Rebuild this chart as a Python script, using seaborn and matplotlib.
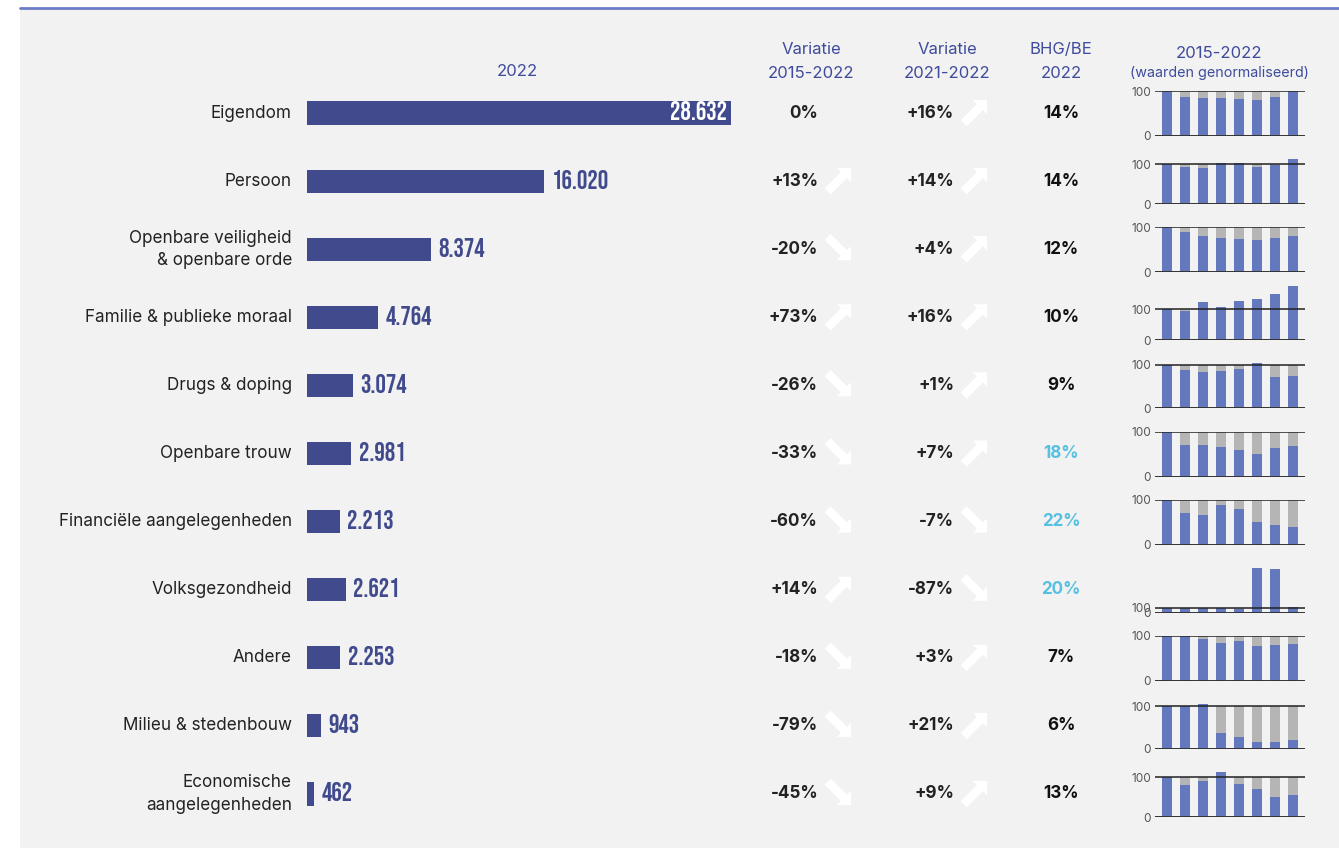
import matplotlib
matplotlib.use("Agg")
import matplotlib.pyplot as plt
import matplotlib.transforms as mtransforms
from matplotlib.patches import Rectangle, Polygon
from matplotlib.lines import Line2D
import numpy as np
import pandas as pd
import seaborn as sns

categories = ["Eigendom", "Persoon", "Openbare veiligheid\n& openbare orde",
              "Familie & publieke moraal", "Drugs & doping", "Openbare trouw",
              "Financiële aangelegenheden", "Volksgezondheid", "Andere",
              "Milieu & stedenbouw", "Economische\naangelegenheden"]
values_2022 = [28632, 16020, 8374, 4764, 3074, 2981, 2213, 2621, 2253, 943, 462]
var_2015_2022 = [0, 13, -20, 73, -26, -33, -60, 14, -18, -79, -45]
var_2021_2022 = [16, 14, 4, 16, 1, 7, -7, -87, 3, 21, 9]
share_bhg_be = [14, 14, 12, 10, 9, 18, 22, 20, 7, 6, 13]
share_highlight = [False, False, False, False, False, True, True, True, False, False, False]

years = [2015, 2016, 2017, 2018, 2019, 2020, 2021, 2022]
# normalised values (2015 = 100)
trend_eigendom = [100, 86, 85, 84, 83, 79, 86, 100]
trend_persoon = [100, 92, 90, 102, 102, 92, 99, 113]
trend_veiligheid = [100, 89, 80, 76, 73, 71, 77, 80]
trend_familie = [100, 94, 123, 108, 127, 133, 149, 173]
trend_drugs = [100, 89, 83, 85, 91, 103, 73, 74]
trend_trouw = [100, 70, 70, 66, 60, 51, 63, 67]
trend_financieel = [100, 71, 65, 87, 78, 51, 43, 40]
trend_volksgezondheid = [100, 100, 100, 100, 75, 905, 877, 114]
trend_andere = [100, 100, 92, 85, 89, 78, 80, 82]
trend_milieu = [100, 100, 105, 37, 28, 16, 17, 21]
trend_economisch = [100, 81, 91, 113, 83, 71, 51, 55]
trends = [trend_eigendom, trend_persoon, trend_veiligheid, trend_familie, trend_drugs,
          trend_trouw, trend_financieel, trend_volksgezondheid, trend_andere,
          trend_milieu, trend_economisch]

W, H = 1339, 848
BG = "#f2f2f2"
NAVY = "#414a8d"
HEAD = "#3f4b9c"
MINI = "#6479bd"
GREY = "#b5b5b5"
LIGHT = "#55c0e2"

sns.set_theme(style="white")
plt.rcParams["font.family"] = ["Inter", "DejaVu Sans"]


def fx(x):
    return x / W


def fy(y):
    return 1 - y / H


def fmt_num(v):
    return f"{v:,}".replace(",", ".")


def fmt_pct(v):
    return f"+{v}%" if v > 0 else f"{v}%"


# arrow outline pointing along +x, tip at origin (pixels)
ARROW = np.array([(0, 0), (-10, 10), (-10, 4.3), (-33, 4.3), (-33, -4.3),
                  (-10, -4.3), (-10, -10)])


def trend_arrow(tip_x, tip_y, up):
    ang = np.deg2rad(45 if up else -45)
    rot = np.array([[np.cos(ang), -np.sin(ang)], [np.sin(ang), np.cos(ang)]])
    pts = ARROW @ rot.T + np.array([tip_x, H - tip_y])
    return Polygon(pts, closed=True, facecolor="white", edgecolor="none",
                   transform=mtransforms.IdentityTransform(), zorder=3)


fig = plt.figure(figsize=(W / 100, H / 100), dpi=100, facecolor="white")
fig.patches.append(Rectangle((fx(20), 0), 1 - fx(20), fy(8), transform=fig.transFigure,
                             facecolor=BG, edgecolor="none", zorder=-10))
fig.lines.append(Line2D([fx(20), 1], [fy(8), fy(8)], transform=fig.transFigure,
                        color="#6b7cc4", lw=2))

# main bar chart
row0, step = 113, 68.1
top = row0 - step / 2
bottom = row0 + step * 10.5
ax = fig.add_axes([fx(307), fy(bottom), 424 / W, (bottom - top) / H])
df = pd.DataFrame({"cat": categories, "val": values_2022})
sns.barplot(data=df, x="val", y="cat", orient="h", color=NAVY, saturation=1,
            width=0.34, linewidth=0, ax=ax)
ax.set_xlim(0, max(values_2022))
ax.set_ylim(10.5, -0.5)
ax.axis("off")
ax.patch.set_alpha(0)

trans = mtransforms.blended_transform_factory(fig.transFigure, ax.transData)
num_font = dict(family=["Bebas Neue", "Roboto Condensed", "DejaVu Sans"], weight="bold",
                fontsize=18.7)

for i, cat in enumerate(categories):
    v = values_2022[i]
    cy = row0 + step * i
    ax.text(fx(292), i, cat, transform=trans, ha="right", va="center",
            fontsize=12.3, color="#222222", multialignment="right", linespacing=1.4)
    if v == max(values_2022):
        ax.annotate(fmt_num(v), (v, i), xytext=(-3, 1.5), textcoords="offset points",
                    ha="right", va="center", color="white", **num_font)
    else:
        ax.annotate(fmt_num(v), (v, i), xytext=(5.5, 1.5), textcoords="offset points",
                    ha="left", va="center", color=NAVY, **num_font)

    ax.text(fx(818), i, fmt_pct(var_2015_2022[i]), transform=trans, ha="right",
            va="center", fontsize=12.3, weight="bold", color="#222222")
    ax.text(fx(954), i, fmt_pct(var_2021_2022[i]), transform=trans, ha="right",
            va="center", fontsize=12.3, weight="bold", color="#222222")
    ax.text(fx(1061), i, f"{share_bhg_be[i]}%", transform=trans, ha="center",
            va="center", fontsize=12.3, weight="bold",
            color=LIGHT if share_highlight[i] else "#111111")

    # white trend arrows next to the variations
    for xt, var in ((851, var_2015_2022[i]), (987, var_2021_2022[i])):
        if var == 0:
            continue
        if var > 0:
            fig.add_artist(trend_arrow(xt, cy - 13, True))
        else:
            fig.add_artist(trend_arrow(xt, cy + 11, False))

# headers
fig.text(fx(517), fy(72), "2022", ha="center", va="center", fontsize=12, color=HEAD)
for xc, lab in ((811, "Variatie\n2015-2022"), (947, "Variatie\n2021-2022"), (1061, "BHG/BE\n2022")):
    fig.text(fx(xc), fy(61.5), lab, ha="center", va="center", fontsize=12, color=HEAD,
             linespacing=1.75)
fig.text(fx(1219), fy(53), "2015-2022", ha="center", va="center", fontsize=12, color=HEAD)
fig.text(fx(1219), fy(73), "(waarden genormaliseerd)", ha="center", va="center",
         fontsize=10.3, color=HEAD)

# small multiples
for i, vals in enumerate(trends):
    cy = row0 + step * i
    h = 45 * min(max(vals) / 100, 1.2) if max(vals) > 150 and max(vals) < 300 else 45
    mx = fig.add_axes([fx(1155), fy(cy + 23), 150 / W, h / H])
    tdf = pd.DataFrame({"jaar": [str(y) for y in years], "waarde": vals,
                        "basis": [100] * len(years)})
    sns.barplot(data=tdf, x="jaar", y="basis", color=GREY, saturation=1, width=0.55,
                linewidth=0, ax=mx)
    sns.barplot(data=tdf, x="jaar", y="waarde", color=MINI, saturation=1, width=0.55,
                linewidth=0, ax=mx)
    mx.set_xlim(-0.65, 7.65)
    mx.set_ylim(0, max(vals))
    mx.axhline(100, color="#222222", lw=1.1, zorder=5)
    mx.axhline(0, color="#333333", lw=1.4, zorder=5)
    mx.set_yticks([0, 100])
    mx.set_yticklabels(["0", "100"], fontsize=8.5, color="#555555")
    mx.tick_params(axis="y", length=0, pad=3)
    mx.set_xticks([])
    mx.set_xlabel("")
    mx.set_ylabel("")
    for s in mx.spines.values():
        s.set_visible(False)
    mx.patch.set_alpha(0)

fig.savefig("out.png", dpi=100, facecolor="white")
